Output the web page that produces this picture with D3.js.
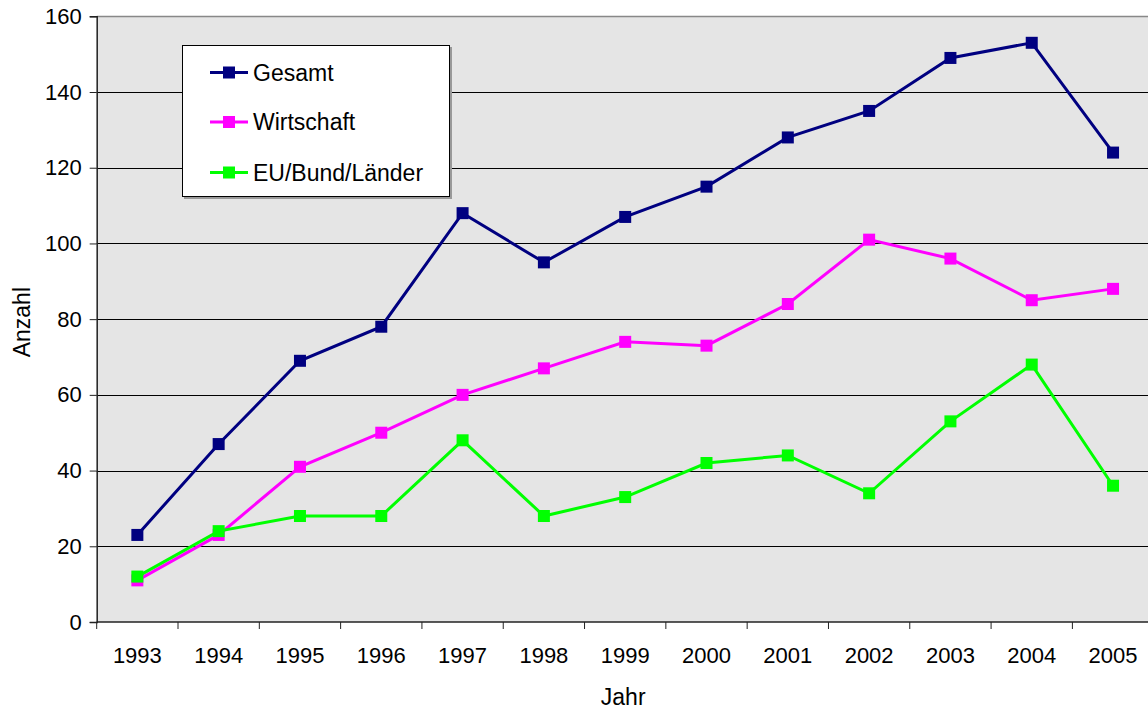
<!DOCTYPE html>
<html>
<head>
<meta charset="utf-8">
<script src="https://cdn.jsdelivr.net/npm/d3@7"></script>
<style>
  html, body { margin: 0; padding: 0; background: #fff; }
  svg { display: block; font-family: "Liberation Sans", Arial, sans-serif; }
</style>
</head>
<body>
<svg id="chart" width="1148" height="709"></svg>
<script>
// Years on the category axis
const years = ["1993", "1994", "1995", "1996", "1997", "1998", "1999",
               "2000", "2001", "2002", "2003", "2004", "2005"];

// Series values per year
const gesamt     = [23, 47, 69, 78, 108, 95, 107, 115, 128, 135, 149, 153, 124];
const wirtschaft = [11, 23, 41, 50, 60, 67, 74, 73, 84, 101, 96, 85, 88];
const euBundLaender = [12, 24, 28, 28, 48, 28, 33, 42, 44, 34, 53, 68, 36];

const seriesNames = ["Gesamt", "Wirtschaft", "EU/Bund/Länder"];
const seriesColors = ["#000080", "#ff00ff", "#00ff00"];

// Value axis ticks
const yTicks = [0, 20, 40, 60, 80, 100, 120, 140, 160];

const series = [gesamt, wirtschaft, euBundLaender].map((vals, i) => ({
  name: seriesNames[i], color: seriesColors[i], values: vals
}));

const svg = d3.select("#chart");
const plotLeft = 96.7, plotTop = 16.3, plotW = 1057, plotH = 605.7;

const x = d3.scaleBand().domain(years).range([plotLeft, plotLeft + plotW]);
const y = d3.scaleLinear().domain([0, 160]).range([plotTop + plotH, plotTop]);

// Plot background
svg.append("rect")
  .attr("x", plotLeft).attr("y", plotTop)
  .attr("width", plotW).attr("height", plotH)
  .attr("fill", "#e5e5e5");

// Horizontal gridlines
svg.append("g")
  .selectAll("line")
  .data(yTicks.filter(d => d > 0 && d < 160))
  .join("line")
  .attr("x1", plotLeft).attr("x2", plotLeft + plotW)
  .attr("y1", d => Math.round(y(d)) + 0.5).attr("y2", d => Math.round(y(d)) + 0.5)
  .attr("stroke", "#000").attr("stroke-width", 1);

// Top frame line
svg.append("line")
  .attr("x1", plotLeft).attr("x2", plotLeft + plotW)
  .attr("y1", Math.round(plotTop) + 0.5).attr("y2", Math.round(plotTop) + 0.5)
  .attr("stroke", "#888").attr("stroke-width", 1.5);

// Y axis
const yAxis = d3.axisLeft(y).tickValues(yTicks).tickSize(7).tickPadding(8);
const gy = svg.append("g").attr("transform", `translate(${plotLeft},0)`).call(yAxis);
gy.select(".domain").attr("stroke", "#222").attr("stroke-width", 1.5);
gy.selectAll(".tick line").attr("stroke", "#222");
gy.selectAll(".tick text").attr("font-size", 22).attr("fill", "#000")
  .attr("font-family", "Liberation Sans, Arial, sans-serif");

// X axis with ticks at category boundaries
const gx = svg.append("g").attr("transform", `translate(0,${plotTop + plotH})`);
gx.append("line")
  .attr("x1", plotLeft).attr("x2", plotLeft + plotW)
  .attr("y1", 0).attr("y2", 0)
  .attr("stroke", "#222").attr("stroke-width", 1.5);
gx.selectAll("line.tick")
  .data(years.concat(["end"]))
  .join("line")
  .attr("class", "tick")
  .attr("x1", (d, i) => plotLeft + i * x.bandwidth())
  .attr("x2", (d, i) => plotLeft + i * x.bandwidth())
  .attr("y1", 0).attr("y2", 7)
  .attr("stroke", "#222");
gx.selectAll("text")
  .data(years)
  .join("text")
  .attr("x", d => x(d) + x.bandwidth() / 2)
  .attr("y", 41)
  .attr("text-anchor", "middle")
  .attr("font-size", 22)
  .attr("fill", "#000")
  .text(d => d);

// Axis titles
svg.append("text")
  .attr("transform", `translate(30,${plotTop + plotH / 2 + 3}) rotate(-90)`)
  .attr("text-anchor", "middle")
  .attr("font-size", 23)
  .text("Anzahl");
svg.append("text")
  .attr("x", plotLeft + plotW / 2 - 2)
  .attr("y", 705)
  .attr("text-anchor", "middle")
  .attr("font-size", 23)
  .text("Jahr");

// Lines and square markers
const line = d3.line()
  .x((d, i) => x(years[i]) + x.bandwidth() / 2)
  .y(d => y(d));

const ms = 12;
series.forEach(s => {
  const g = svg.append("g");
  g.append("path")
    .attr("d", line(s.values))
    .attr("fill", "none")
    .attr("stroke", s.color)
    .attr("stroke-width", 3);
  g.selectAll("rect")
    .data(s.values)
    .join("rect")
    .attr("x", (d, i) => x(years[i]) + x.bandwidth() / 2 - ms / 2)
    .attr("y", d => y(d) - ms / 2)
    .attr("width", ms).attr("height", ms)
    .attr("fill", s.color);
});

// Legend
const lg = svg.append("g");
lg.append("rect")
  .attr("x", 184).attr("y", 47)
  .attr("width", 268).attr("height", 152)
  .attr("fill", "#999");
lg.append("rect")
  .attr("x", 182.5).attr("y", 45.5)
  .attr("width", 267).attr("height", 151)
  .attr("fill", "#fff").attr("stroke", "#000").attr("stroke-width", 1);
const rowY = [72.5, 122, 172.5];
series.forEach((s, i) => {
  lg.append("line")
    .attr("x1", 210).attr("x2", 248)
    .attr("y1", rowY[i]).attr("y2", rowY[i])
    .attr("stroke", s.color).attr("stroke-width", 3);
  lg.append("rect")
    .attr("x", 229 - 6).attr("y", rowY[i] - 6)
    .attr("width", 12).attr("height", 12)
    .attr("fill", s.color);
  lg.append("text")
    .attr("x", 253).attr("y", rowY[i] + 8)
    .attr("font-size", 23)
    .attr("fill", "#000")
    .text(s.name);
});
</script>
</body>
</html>
